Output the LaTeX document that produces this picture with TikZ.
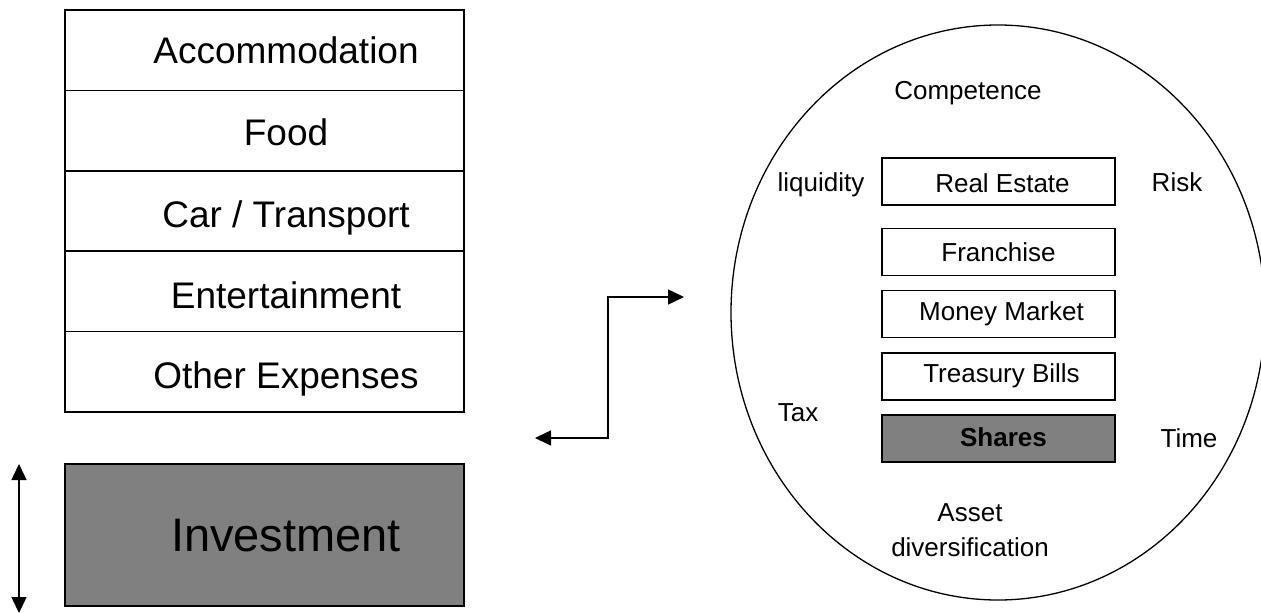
\documentclass[tikz,border=0pt]{standalone}
\usepackage{fontspec}
\setmainfont{Liberation Sans}
\usetikzlibrary{arrows.meta}
\begin{document}
\begin{tikzpicture}[x=1pt,y=-1pt,
  row/.style={draw=black,line width=1.7pt,minimum width=399pt,minimum height=80.4pt,inner sep=0pt},
  rowtxt/.style={inner sep=0pt,text height=26.5pt,text depth=0pt,font=\fontsize{37}{40}\selectfont},
  opt/.style={draw=black,line width=1.6pt,minimum width=233pt,minimum height=47pt,inner sep=0pt},
  opttxt/.style={inner sep=0pt,text height=18.6pt,text depth=0pt,font=\fontsize{26}{28}\selectfont},
  lbl/.style={inner sep=0pt,text height=18.6pt,text depth=0pt,font=\fontsize{26}{30}\selectfont},
  conn/.style={line width=1.5pt,{Triangle[width=15pt,length=16pt]}-{Triangle[width=15pt,length=16pt]}}]
\useasboundingbox (0,0) rectangle (1261,613);
% expense stack
\node[row] (acc) at (264.5,50.2) {};
\node[row] (food) at (264.5,130.6) {};
\node[row] (car) at (264.5,211) {};
\node[row] (ent) at (264.5,291.4) {};
\node[row] (oth) at (264.5,371.8) {};
\node[rowtxt] (acct) at ([xshift=21.5pt]acc.center) {Accommodation};
\node[rowtxt] (foodt) at ([xshift=21.5pt,yshift=-2pt]food.center) {Food};
\node[rowtxt] (cart) at ([xshift=21.5pt,yshift=-3pt]car.center) {Car / Transport};
\node[rowtxt] (entt) at ([xshift=21.5pt,yshift=-3.5pt]ent.center) {Entertainment};
\node[rowtxt] (otht) at ([xshift=21.5pt,yshift=-3pt]oth.center) {Other Expenses};
% investment
\node[draw=black,line width=1.7pt,fill=black!50,minimum width=399pt,minimum height=142pt,inner sep=0pt] (inv) at (264.5,535) {};
\node[inner sep=0pt,text height=33.7pt,text depth=0pt,font=\fontsize{47}{50}\selectfont] (invt) at ([xshift=21.5pt]inv.center) {Investment};
% vertical double arrow
\coordinate (vt) at (19,464);
\coordinate (vb) at (19,613);
\draw[conn] (vt) -- (vb);
% elbow connector
\coordinate (ea) at (535,438);
\coordinate (eb) at (684,297);
\draw[conn] (ea) -- (608,438) -- (608,297) -- (eb);
% circle
\draw[line width=1.3pt] (998,312.5) ellipse [x radius=267pt,y radius=287.5pt];
% options
\node[opt] (re) at (998.5,181.5) {};
\node[opt] (fr) at (998.5,252) {};
\node[opt] (mm) at (998.5,314) {};
\node[opt] (tb) at (998.5,376.5) {};
\node[opt,fill=black!50] (sh) at (998.5,438.5) {};
\node[opttxt] (ret) at ([xshift=4pt,yshift=-1.5pt]re.center) {Real Estate};
\node[opttxt] (frt) at ([xshift=0pt]fr.center) {Franchise};
\node[opttxt] (mmt) at ([xshift=3pt,yshift=3pt]mm.center) {Money Market};
\node[opttxt] (tbt) at ([xshift=3pt,yshift=3pt]tb.center) {Treasury Bills};
\node[opttxt,font=\fontsize{26}{28}\selectfont\bfseries] (sht) at ([xshift=5pt,yshift=1.5pt]sh.center) {Shares};
% labels
\node[lbl] (comp) at (968,90) {Competence};
\node[lbl] (liq) at (821,182) {liquidity};
\node[lbl] (risk) at (1177,182) {Risk};
\node[lbl] (tax) at (798,412) {Tax};
\node[lbl] (time) at (1189,438) {Time};
\node[lbl] (asset) at (970,512) {Asset};
\node[lbl] (div) at (970,547) {diversification};
\end{tikzpicture}
\end{document}
